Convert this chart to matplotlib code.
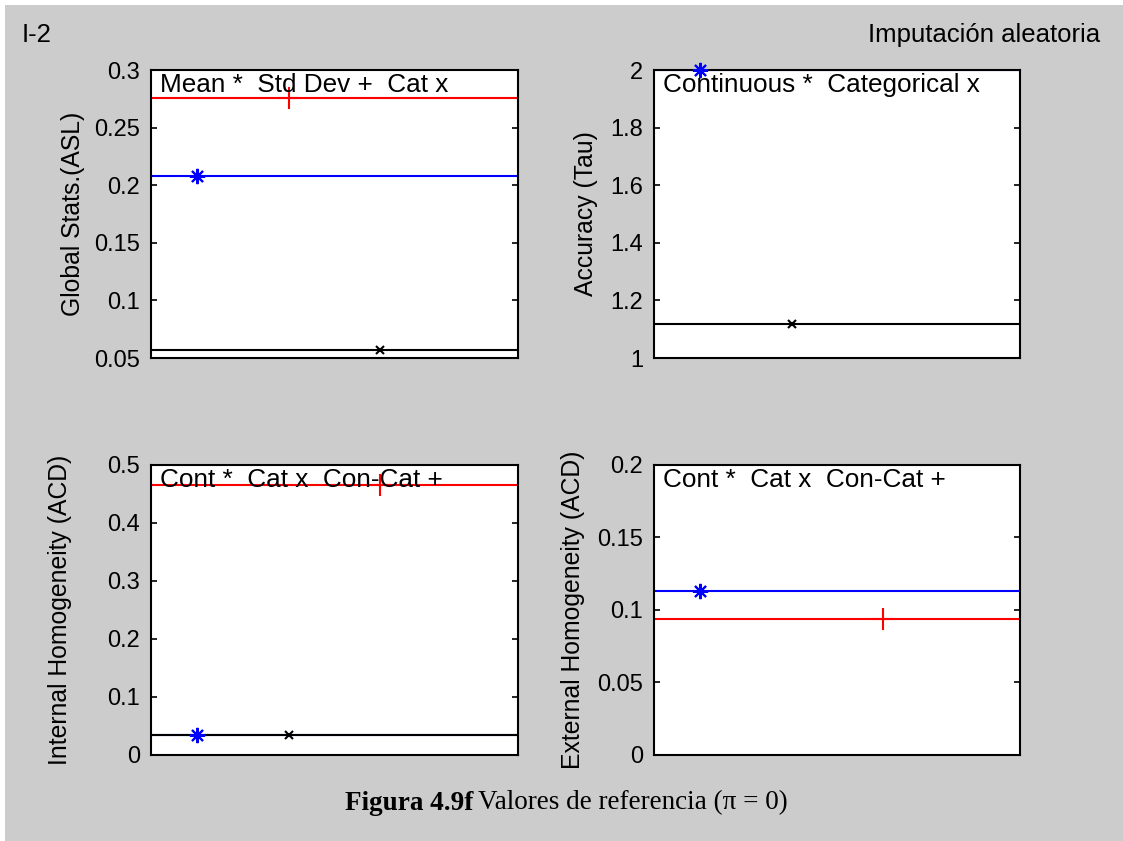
import numpy as np
import matplotlib
matplotlib.use('Agg')
import matplotlib.pyplot as plt
from matplotlib.patches import Rectangle

# datos (posiciones 1, 2, 3 en el eje x)
x_pos = [1, 2, 3]

# Global stats (ASL): Mean *, Std Dev +, Cat x
gs_mean = 0.208
gs_std = 0.276
gs_cat = 0.0566

# Accuracy (Tau): Continuous *, Categorical x
acc_cont = 2.0
acc_cat = 1.118

# Internal homogeneity (ACD)
ih_cont = 0.0338
ih_cat = 0.0338
ih_concat = 0.466

# External homogeneity (ACD)
eh_cont = 0.1131
eh_cat = np.nan
eh_concat = 0.0936

gs_ticks = [0.05, 0.1, 0.15, 0.2, 0.25, 0.3]
acc_ticks = [1, 1.2, 1.4, 1.6, 1.8, 2]
ih_ticks = [0, 0.1, 0.2, 0.3, 0.4, 0.5]
eh_ticks = [0, 0.05, 0.1, 0.15, 0.2]

sans = ['Liberation Sans', 'DejaVu Sans']
serif = ['Liberation Serif', 'DejaVu Serif']
plt.rcParams['font.family'] = sans

STAR = (8, 2, 0)   # asterisco tipo matlab

fig = plt.figure(figsize=(11.23, 8.41), dpi=100)
fig.patch.set_facecolor('white')
fig.add_artist(Rectangle((5 / 1123, 0), 1, 1 - 5 / 841, transform=fig.transFigure,
                         facecolor='#cccccc', edgecolor='none', zorder=-10))


def panel(rect, series, ylim, yticks, ylabel, legend_txt, label_x):
    ax = fig.add_axes(rect)
    ax.set_facecolor('white')
    for xv, yv, color, marker, ms in series:
        ax.axhline(yv, color=color, lw=1.5, zorder=2)
        ax.plot([xv], [yv], marker=marker, color=color, ms=ms, mew=1.5,
                linestyle='none', zorder=3, clip_on=False)
    ax.set_xlim(0.5, 4.5)
    ax.set_ylim(*ylim)
    ax.set_xticks([])
    ax.set_yticks(yticks)
    ax.set_yticklabels(['%g' % t for t in yticks])
    ax.tick_params(axis='y', direction='in', length=4, width=1.2, pad=8,
                   labelsize=17, right=True, colors='black')
    for s in ax.spines.values():
        s.set_linewidth(1.5)
    ax.set_ylabel(ylabel, fontsize=17.8)
    ax.yaxis.set_label_coords(label_x, 0.5)
    ax.text(0.025, 0.99, legend_txt, transform=ax.transAxes, fontsize=18.8,
            va='top', ha='left', zorder=4)
    return ax


panel([0.1345, 0.5743, 0.3268, 0.3424],
      [(x_pos[0], gs_mean, 'blue', STAR, 11),
       (x_pos[2], gs_cat, 'black', 'x', 6),
       (x_pos[1], gs_std, 'red', '+', 16)],
      (0.05, 0.3), gs_ticks, 'Global Stats.(ASL)',
      'Mean *  Std Dev +  Cat x', -0.179)

panel([0.5826, 0.5743, 0.3259, 0.3424],
      [(x_pos[0], acc_cont, 'blue', STAR, 11),
       (x_pos[1], acc_cat, 'black', 'x', 6)],
      (1, 2), acc_ticks, 'Accuracy (Tau)',
      'Continuous *  Categorical x', -0.153)

panel([0.1345, 0.1023, 0.3268, 0.3448],
      [(x_pos[0], ih_cont, 'blue', STAR, 11),
       (x_pos[1], ih_cat, 'black', 'x', 6),
       (x_pos[2], ih_concat, 'red', '+', 16)],
      (0, 0.5), ih_ticks, 'Internal Homogeneity (ACD)',
      'Cont *  Cat x  Con-Cat +', -0.215)

panel([0.5826, 0.1023, 0.3259, 0.3448],
      [(x_pos[0], eh_cont, 'blue', STAR, 11),
       (x_pos[1], eh_cat, 'black', 'x', 6),
       (x_pos[2], eh_concat, 'red', '+', 16)],
      (0, 0.2), eh_ticks, 'External Homogeneity (ACD)',
      'Cont *  Cat x  Con-Cat +', -0.188)

fig.text(22 / 1123, 1 - 35 / 841, 'I-2', fontsize=18.5, va='center', ha='left')
fig.text(1100 / 1123, 1 - 35 / 841, 'Imputación aleatoria', fontsize=18.5,
         va='center', ha='right')

# pie de figura
cap_y = 1 - 803 / 841
t1 = fig.text(345 / 1123, cap_y, 'Figura 4.9f', fontsize=19.5, fontweight='bold',
              family=serif, va='center', ha='left')
fig.canvas.draw()
bb = t1.get_window_extent()
fig.text((bb.x1 + 5) / 1123, cap_y, 'Valores de referencia (\u03c0 = 0)',
         fontsize=19.5, family=serif, va='center', ha='left')

fig.savefig('out.png', dpi=100, facecolor=fig.get_facecolor())
